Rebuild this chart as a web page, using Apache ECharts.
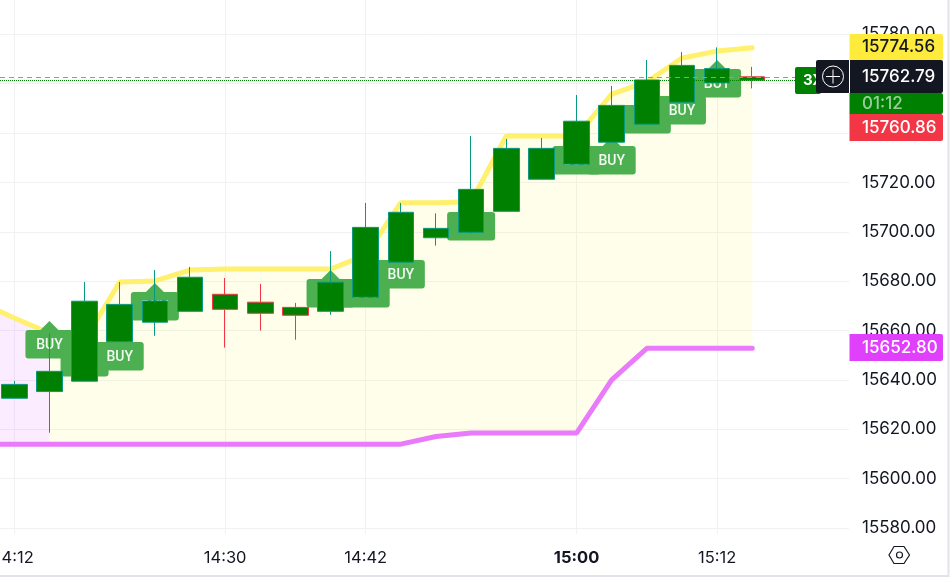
<!DOCTYPE html>
<html>
<head>
<meta charset="utf-8">
<style>
  html, body { margin: 0; padding: 0; background: #fff; }
  #chart { width: 952px; height: 583px; }
</style>
<script src="https://cdn.jsdelivr.net/npm/echarts@6/dist/echarts.min.js"></script>
</head>
<body>
<div id="chart"></div>
<script>
// 3 minute bars, first one sits off the left edge and only carries the bands
const times = ['14:09', '14:12', '14:15', '14:18', '14:21', '14:24', '14:27', '14:30', '14:33', '14:36', '14:39', '14:42',
  '14:45', '14:48', '14:51', '14:54', '14:57', '15:00', '15:03', '15:06', '15:09', '15:12', '15:15'];

const candleTimes = times.slice(1);
const opens = [15632.6, 15635.3, 15639.5, 15655.5, 15663.4, 15667.8, 15674.7, 15671.5, 15669.4, 15667.8, 15673.5,
  15687.7, 15697.6, 15699.8, 15708.3, 15721.3, 15727.4, 15736.3, 15743.6, 15752.5, 15760.3, 15762.79];
const closes = [15638.2, 15643.5, 15671.9, 15670.6, 15672.0, 15681.6, 15668.6, 15667.0, 15666.2, 15679.6, 15701.8,
  15707.9, 15701.4, 15717.2, 15733.8, 15733.8, 15744.8, 15751.2, 15761.5, 15767.4, 15766.1, 15761.4];
const lows = [15632.6, 15618.6, 15639.5, 15655.5, 15657.9, 15667.8, 15653.1, 15660.0, 15656.3, 15666.4, 15673.5,
  15687.7, 15694.4, 15699.2, 15708.3, 15721.3, 15727.4, 15736.3, 15743.6, 15752.5, 15760.3, 15758.1];
const highs = [15639.6, 15658.9, 15679.7, 15679.7, 15684.5, 15685.8, 15681.3, 15678.9, 15671.2, 15692.2, 15711.7,
  15711.7, 15707.5, 15738.8, 15737.6, 15738.0, 15755.4, 15759.1, 15769.6, 15772.8, 15774.7, 15766.8];

const upperBand = [15671.6, 15665.1, 15659.0, 15656.2, 15679.7, 15680.1, 15684.5, 15684.9, 15684.9, 15684.9, 15684.9,
  15690.6, 15711.8, 15711.8, 15712.2, 15738.8, 15738.8, 15738.8, 15755.8, 15760.7, 15770.4, 15773.2, 15774.56];
const lowerBand = [15614, 15614, 15614, 15614, 15614, 15614, 15614, 15614, 15614, 15614, 15614,
  15614, 15614, 15617.1, 15618.5, 15618.5, 15618.5, 15618.5, 15640, 15652.8, 15652.8, 15652.8, 15652.8];

// BUY flags: bar time and the price the arrow tip points at
const buyTimes = ['14:15', '14:18', '14:21', '14:24', '14:39', '14:42', '14:45', '14:51', '15:00', '15:03', '15:06', '15:09', '15:12'];
const buyTips = [15663.9, 15656.6, 15659.0, 15679.3, 15684.5, 15684.5, 15692.2, 15711.7, 15738.4, 15738.4, 15755.0, 15758.7, 15769.6];

const priceTicks = [15580, 15600, 15620, 15640, 15660, 15680, 15700, 15720, 15740, 15760, 15780];
const timeTicks = ['14:12', '14:30', '14:42', '15:00', '15:12'];
const lastPrice = 15762.79;
const bidPrice = 15761.4;

const FONT = 'Inter';

function toMin(t) {
  const p = t.split(':');
  return +p[0] * 60 + +p[1];
}
function toLabel(m) {
  const mm = m % 60;
  return Math.floor(m / 60) + ':' + (mm < 10 ? '0' + mm : mm);
}

const chart = echarts.init(document.getElementById('chart'));

// fill between the two bands, pink before the flip and yellow after it
function renderBand(params, api) {
  const from = api.value(0);
  const to = api.value(1);
  const top = [];
  const bottom = [];
  times.forEach(function (t, i) {
    const m = toMin(t);
    if (m < from || m > to) return;
    top.push(api.coord([m, upperBand[i]]));
    bottom.unshift(api.coord([m, lowerBand[i]]));
  });
  return {
    type: 'polygon',
    shape: { points: top.concat(bottom) },
    style: { fill: params.dataIndex === 0 ? 'rgba(224,64,251,0.1)' : 'rgba(255,245,50,0.1)' }
  };
}

function renderFlag(params, api) {
  const p = api.coord([api.value(0), api.value(1)]);
  return {
    type: 'group',
    children: [
      { type: 'polygon', shape: { points: [[p[0], p[1]], [p[0] + 10, p[1] + 10], [p[0] - 10, p[1] + 10]] }, style: { fill: '#4caf50' } },
      { type: 'rect', shape: { x: p[0] - 24, y: p[1] + 9, width: 48, height: 28.5, r: 3 }, style: { fill: '#4caf50' } },
      { type: 'text', style: { x: p[0], y: p[1] + 24.5, text: 'BUY', fill: '#fff', opacity: 0.92, font: '500 14px Roboto', align: 'center', verticalAlign: 'middle' } }
    ]
  };
}

function priceTag(y, h, fill, text, color) {
  return {
    type: 'group',
    children: [
      { type: 'rect', z: 20, shape: { x: 849.5, y: y, width: 93.5, height: h, r: [0, 2, 2, 0] }, style: { fill: fill } },
      { type: 'text', z: 21, x: 862, y: y + h / 2, style: { text: text, fill: color, font: '500 17px ' + FONT, verticalAlign: 'middle' } }
    ]
  };
}

chart.setOption({
  animation: false,
  backgroundColor: '#fff',
  grid: { left: 0, right: 103, top: 0, bottom: 49, outerBoundsMode: 'none' },
  xAxis: {
    type: 'value',
    min: 850.78,
    max: 923.26,
    axisLine: { show: false },
    axisTick: { show: false, customValues: timeTicks.map(toMin) },
    splitLine: { show: true, lineStyle: { color: '#f0f1f3', width: 1 } },
    axisLabel: {
      customValues: timeTicks.map(toMin),
      margin: 16,
      color: '#131722',
      fontFamily: FONT,
      fontSize: 16.5,
      formatter: function (v) {
        const s = toLabel(v);
        return s === '15:00' ? '{b|' + s + '}' : s;
      },
      rich: { b: { fontWeight: 'bold', fontFamily: FONT, fontSize: 16.5, color: '#131722' } }
    }
  },
  yAxis: {
    type: 'value',
    position: 'right',
    min: 15577.61,
    max: 15793.89,
    axisLine: { show: false },
    axisTick: { show: false, customValues: priceTicks },
    splitLine: { show: true, lineStyle: { color: '#f0f1f3', width: 1 } },
    axisLabel: {
      customValues: priceTicks,
      margin: 13,
      padding: [2, 0, 0, 0],
      color: '#131722',
      fontFamily: FONT,
      fontSize: 17,
      formatter: function (v) { return v.toFixed(2); }
    }
  },
  series: [
    {
      type: 'custom',
      z: 1,
      silent: true,
      renderItem: renderBand,
      data: [[toMin(times[0]), toMin('14:15')], [toMin('14:15'), toMin(times[times.length - 1])]]
    },
    {
      type: 'line',
      z: 2,
      symbol: 'none',
      lineStyle: { color: '#fff06e', width: 5, cap: 'round' },
      data: times.map(function (t, i) { return [toMin(t), upperBand[i]]; })
    },
    {
      type: 'line',
      z: 2,
      symbol: 'none',
      lineStyle: { color: '#e87afb', width: 5, cap: 'round' },
      data: times.map(function (t, i) { return [toMin(t), lowerBand[i]]; })
    },
    {
      type: 'custom',
      z: 3,
      silent: true,
      renderItem: renderFlag,
      data: buyTimes.map(function (t, i) { return [toMin(t), buyTips[i]]; })
    },
    {
      type: 'candlestick',
      z: 4,
      barWidth: 26,
      itemStyle: { color: '#008000', color0: '#008000', borderColor: '#089981', borderColor0: '#f23645', borderWidth: 1 },
      data: candleTimes.map(function (t, i) { return [toMin(t), opens[i], closes[i], lows[i], highs[i]]; })
    },
    {
      type: 'line',
      z: 5,
      symbol: 'none',
      data: [],
      markLine: {
        silent: true,
        symbol: 'none',
        label: { show: false },
        lineStyle: { color: '#9598a1', type: [5, 4], width: 1 },
        data: [{ yAxis: lastPrice }]
      }
    },
    {
      type: 'line',
      z: 5,
      symbol: 'none',
      data: [],
      markLine: {
        silent: true,
        symbol: 'none',
        label: { show: false },
        lineStyle: { color: '#008000', type: [1, 1], width: 1 },
        data: [{ yAxis: bidPrice }]
      }
    }
  ],
  graphic: [
    { type: 'rect', z: 15, shape: { x: 0, y: 575, width: 949, height: 2 }, style: { fill: '#e0e3eb' } },
    { type: 'rect', z: 15, shape: { x: 947.5, y: 0, width: 2, height: 577 }, style: { fill: '#e0e3eb' } },
    { type: 'rect', z: 16, shape: { x: 795, y: 67, width: 26, height: 27, r: 2 }, style: { fill: '#008000' } },
    { type: 'text', z: 17, x: 803, y: 80.5, style: { text: '3X', fill: '#fff', font: 'bold 15px ' + FONT, verticalAlign: 'middle' } },
    priceTag(34, 26, '#ffeb3b', '15774.56', '#131722'),
    priceTag(93, 21, '#008000', '01:12', 'rgba(255,255,255,0.6)'),
    priceTag(114, 27, '#f23645', '15760.86', '#fff'),
    priceTag(334, 27, '#e040fb', '15652.80', '#fff'),
    { type: 'rect', z: 21, shape: { x: 816, y: 60, width: 127, height: 33, r: 2 }, style: { fill: '#131722' } },
    { type: 'rect', z: 22, shape: { x: 849, y: 60, width: 1, height: 33 }, style: { fill: '#fff' } },
    { type: 'text', z: 22, x: 862, y: 76.5, style: { text: '15762.79', fill: '#fff', font: '500 17px ' + FONT, verticalAlign: 'middle' } },
    { type: 'circle', z: 22, shape: { cx: 833, cy: 76.5, r: 10.5 }, style: { fill: 'none', stroke: '#fff', lineWidth: 1 } },
    { type: 'line', z: 22, shape: { x1: 826, y1: 76.5, x2: 840, y2: 76.5 }, style: { stroke: '#fff', lineWidth: 1 } },
    { type: 'line', z: 22, shape: { x1: 833, y1: 69.5, x2: 833, y2: 83.5 }, style: { stroke: '#fff', lineWidth: 1 } },
    { type: 'polygon', z: 16, shape: { points: [[889, 555], [894, 546.5], [904, 546.5], [909.5, 555], [904, 563.5], [894, 563.5]] }, style: { fill: 'none', stroke: '#131722', lineWidth: 1.2 } },
    { type: 'circle', z: 16, shape: { cx: 899.5, cy: 555, r: 3 }, style: { fill: 'none', stroke: '#131722', lineWidth: 1.2 } }
  ]
});
</script>
</body>
</html>
